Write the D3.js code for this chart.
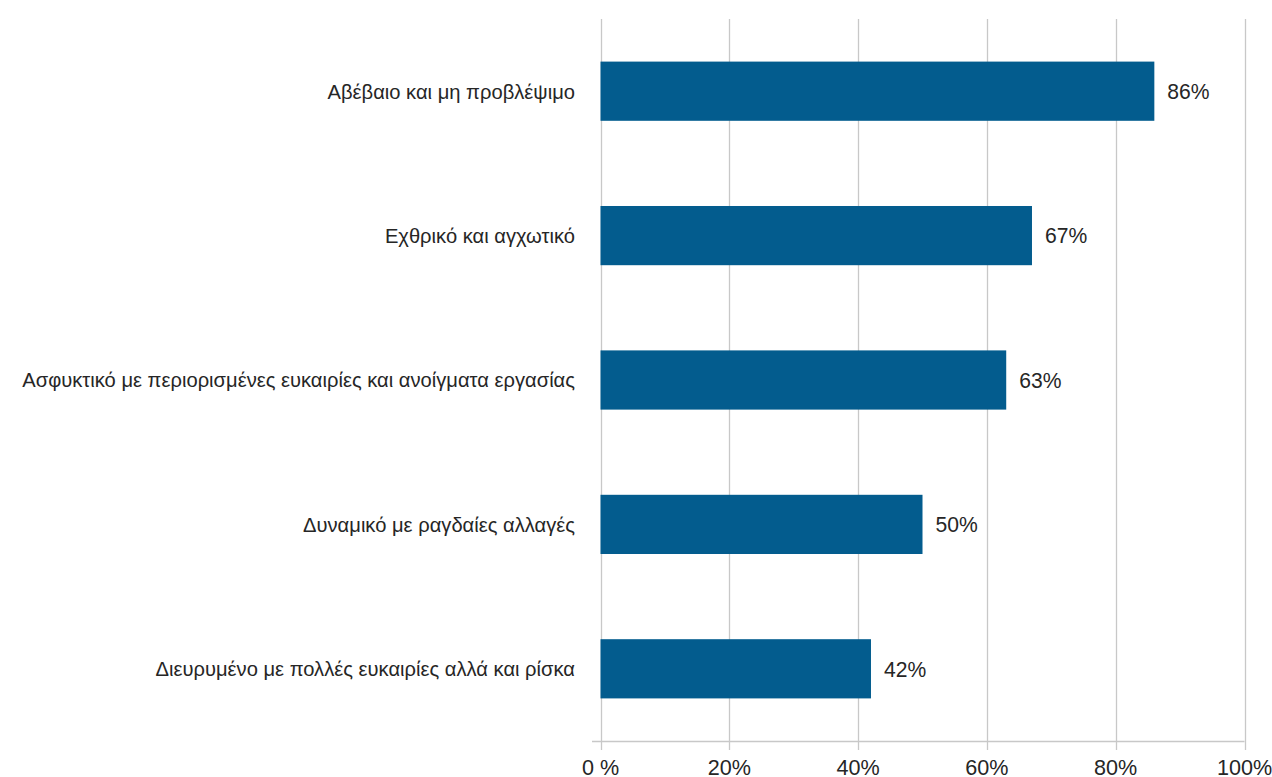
<!DOCTYPE html>
<html>
<head>
<meta charset="utf-8">
<script src="https://cdn.jsdelivr.net/npm/d3@7"></script>
<style>
  html, body { margin: 0; padding: 0; background: #fff; }
  svg { display: block; }
  text { font-family: "Liberation Sans", Arial, sans-serif; fill: #262626; }
</style>
</head>
<body>
<svg id="chart" width="1272" height="777"></svg>
<script>
const categories = [
  "Αβέβαιο και μη προβλέψιμο",
  "Εχθρικό και αγχωτικό",
  "Ασφυκτικό με περιορισμένες ευκαιρίες και ανοίγματα εργασίας",
  "Δυναμικό με ραγδαίες αλλαγές",
  "Διευρυμένο με πολλές ευκαιρίες αλλά και ρίσκα"
];
const values = [86, 67, 63, 50, 42];
const tickValues = [0, 20, 40, 60, 80, 100];
const tickLabels = ["0 %", "20%", "40%", "60%", "80%", "100%"];

(function () {
const svg = d3.select("#chart");
const mLeft = 600.5, mRight = 1244.5, mTop = 19, mBottom = 741;

const x = d3.scaleLinear().domain([0, 100]).range([mLeft, mRight]);
const y = d3.scaleBand().domain(categories).range([mTop, mBottom])
  .paddingInner(0.59).paddingOuter(0.295);

// condensation factor so the longest label spans the reference width
const probe = svg.append("text").attr("font-size", 21)
  .text(categories[2]);
const k = 553 / probe.node().getComputedTextLength();
probe.remove();

// gridlines
svg.append("g").selectAll("line").data(tickValues).join("line")
  .attr("x1", d => Math.round(x(d)) + 0.5).attr("x2", d => Math.round(x(d)) + 0.5)
  .attr("y1", mTop).attr("y2", 750)
  .attr("stroke", "#c8c8c8").attr("stroke-width", 1.3);

// axis line
svg.append("line")
  .attr("x1", 592).attr("x2", mRight).attr("y1", mBottom + 0.5).attr("y2", mBottom + 0.5)
  .attr("stroke", "#c8c8c8").attr("stroke-width", 1.3);

// tick labels
svg.append("g").selectAll("text").data(tickValues).join("text")
  .attr("transform", d => `translate(${x(d)},774.5) scale(${k},1)`)
  .attr("text-anchor", "middle")
  .attr("font-size", 22.5)
  .text((d, i) => tickLabels[i]);

// bars
svg.append("g").selectAll("rect").data(values).join("rect")
  .attr("x", x(0))
  .attr("y", (d, i) => y(categories[i]))
  .attr("width", d => x(d) - x(0))
  .attr("height", y.bandwidth())
  .attr("fill", "#035c8e");

// value labels
svg.append("g").selectAll("text").data(values).join("text")
  .attr("transform", (d, i) => `translate(${x(d) + 13},${y(categories[i]) + y.bandwidth() / 2}) scale(${k},1)`)
  .attr("dy", "0.35em")
  .attr("font-size", 22)
  .text(d => d + "%");

// category labels
svg.append("g").selectAll("text").data(categories).join("text")
  .attr("transform", d => `translate(575,${y(d) + y.bandwidth() / 2}) scale(${k},1)`)
  .attr("dy", "0.35em")
  .attr("text-anchor", "end")
  .attr("font-size", 21)
  .text(d => d);
})();
</script>
</body>
</html>
